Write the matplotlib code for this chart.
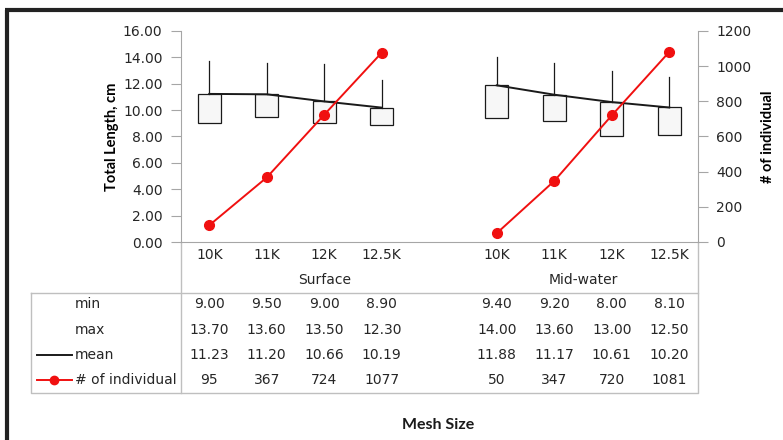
import matplotlib
matplotlib.use("Agg")
import matplotlib.pyplot as plt
import matplotlib.transforms as mtransforms
from matplotlib.patches import Rectangle
from matplotlib.lines import Line2D
import numpy as np

plt.rcParams['font.family'] = ['DejaVu Sans']
BOLDF = ['Lato', 'DejaVu Sans']

# ---- data ----
categories = ["10K", "11K", "12K", "12.5K", "", "10K", "11K", "12K", "12.5K"]
groups = ["Surface", "Mid-water"]
group_members = [[0, 1, 2, 3, 4], [5, 6, 7, 8]]
mins = [9.00, 9.50, 9.00, 8.90, None, 9.40, 9.20, 8.00, 8.10]
maxs = [13.70, 13.60, 13.50, 12.30, None, 14.00, 13.60, 13.00, 12.50]
means = [11.23, 11.20, 10.66, 10.19, None, 11.88, 11.17, 10.61, 10.20]
counts = [95, 367, 724, 1077, None, 50, 347, 720, 1081]
left_ticks = [0, 2, 4, 6, 8, 10, 12, 14, 16]
right_ticks = [0, 200, 400, 600, 800, 1000, 1200]

W, H = 783, 440
fig = plt.figure(figsize=(W / 100, H / 100), dpi=100)
FS = 10
TXT = '#262626'

# overlay in pixel coordinates for frame/table
ov = fig.add_axes([0, 0, 1, 1], zorder=0)
ov.set_xlim(0, W)
ov.set_ylim(H, 0)
ov.axis('off')

x_left, x_right, y_top, y_bot = 180.5, 698, 31, 242
ax = fig.add_axes([x_left / W, (H - y_bot) / H, (x_right - x_left) / W, (y_bot - y_top) / H], zorder=2)
ax.patch.set_alpha(0)
n = len(categories)
x = np.arange(n)
ax.set_xlim(-0.5, n - 0.5)
ax.set_ylim(0, 16)
ax.set_yticks(left_ticks)
ax.set_yticklabels([f"{v:.2f}" for v in left_ticks], fontsize=FS, color=TXT)
ax.set_xticks([])
gray = '#a6a6a6'
for s in ['top', 'right']:
    ax.spines[s].set_visible(False)
ax.spines['left'].set_color(gray)
ax.spines['bottom'].set_color(gray)
ax.tick_params(axis='y', direction='out', length=7, color=gray, pad=6)
ax.set_ylabel("Total Length, cm", fontsize=10.5, fontweight='bold', family=BOLDF, labelpad=3)

ax2 = ax.twinx()
ax2.set_ylim(0, 1200)
ax2.set_yticks(right_ticks)
ax2.set_yticklabels([str(v) for v in right_ticks], fontsize=FS, color=TXT)
for s in ['top', 'left', 'bottom']:
    ax2.spines[s].set_visible(False)
ax2.spines['right'].set_color(gray)
ax2.tick_params(axis='y', direction='out', length=7, color=gray, pad=6)
ax2.set_ylabel("# of individual", fontsize=10.5, fontweight='bold', family=BOLDF, labelpad=7)

# boxes: min -> mean, whisker mean -> max
bw = 0.4
for i in range(n):
    if mins[i] is None:
        continue
    ax.add_patch(Rectangle((x[i] - bw / 2, mins[i]), bw, means[i] - mins[i],
                           facecolor='#f7f7f7', edgecolor='#1a1a1a', lw=0.9, zorder=3))
    ax.plot([x[i], x[i]], [means[i], maxs[i]], color='#1a1a1a', lw=0.9, zorder=3)

mean_arr = np.array([np.nan if m is None else m for m in means])
ax.plot(x, mean_arr, color='#1a1a1a', lw=1.4, zorder=4)

cnt_arr = np.array([np.nan if c is None else c for c in counts], dtype=float)
ax2.plot(x, cnt_arr, color='#f01010', lw=1.4, marker='o', markersize=7, zorder=5)

# category labels via blended transform
bt = mtransforms.blended_transform_factory(ax.transData, ov.transData)
for i, c in enumerate(categories):
    if c:
        ov.text(x[i], 255, c, transform=bt, ha='center', va='center', fontsize=FS, color=TXT)
for g, mem in zip(groups, group_members):
    ov.text(np.mean(x[mem]), 280, g, transform=bt, ha='center', va='center', fontsize=FS, color=TXT)

# table frame
tcol = '#bfbfbf'
ov.plot([31, 698, 698, 31, 31], [293, 293, 393, 393, 293], color=tcol, lw=1.0)
ov.plot([x_left, x_left], [y_bot, 393], color=tcol, lw=1.0)
ov.plot([x_right, x_right], [y_bot, 293], color=tcol, lw=1.0)

rows = [("min", mins, "{:.2f}"), ("max", maxs, "{:.2f}"), ("mean", means, "{:.2f}"), ("# of individual", counts, "{:d}")]
row_y = [304, 330, 355, 380]
for (lab, vals, fmt), yy in zip(rows, row_y):
    ov.text(75, yy, lab, ha='left', va='center', fontsize=FS, color=TXT)
    for i, v in enumerate(vals):
        if v is None:
            continue
        ov.text(x[i], yy, fmt.format(v), transform=bt, ha='center', va='center', fontsize=FS, color=TXT)

# legend keys in table
ov.add_line(Line2D([37, 72], [355, 355], color='#1a1a1a', lw=1.4))
ov.add_line(Line2D([37, 72], [380, 380], color='#f01010', lw=1.4))
ov.plot([54], [380], marker='o', color='#f01010', markersize=6)

ov.text(438, 425, "Mesh Size", ha='center', va='center', fontsize=11.5, fontweight='bold', family=BOLDF, color='#1a1a1a')

# outer dark frame (top and left)
ov.plot([6.5, 6.5], [H, 10.5], color='#222222', lw=3, solid_capstyle='butt')
ov.plot([5, W], [10.5, 10.5], color='#222222', lw=3, solid_capstyle='butt')

fig.savefig("out.png", dpi=100)
